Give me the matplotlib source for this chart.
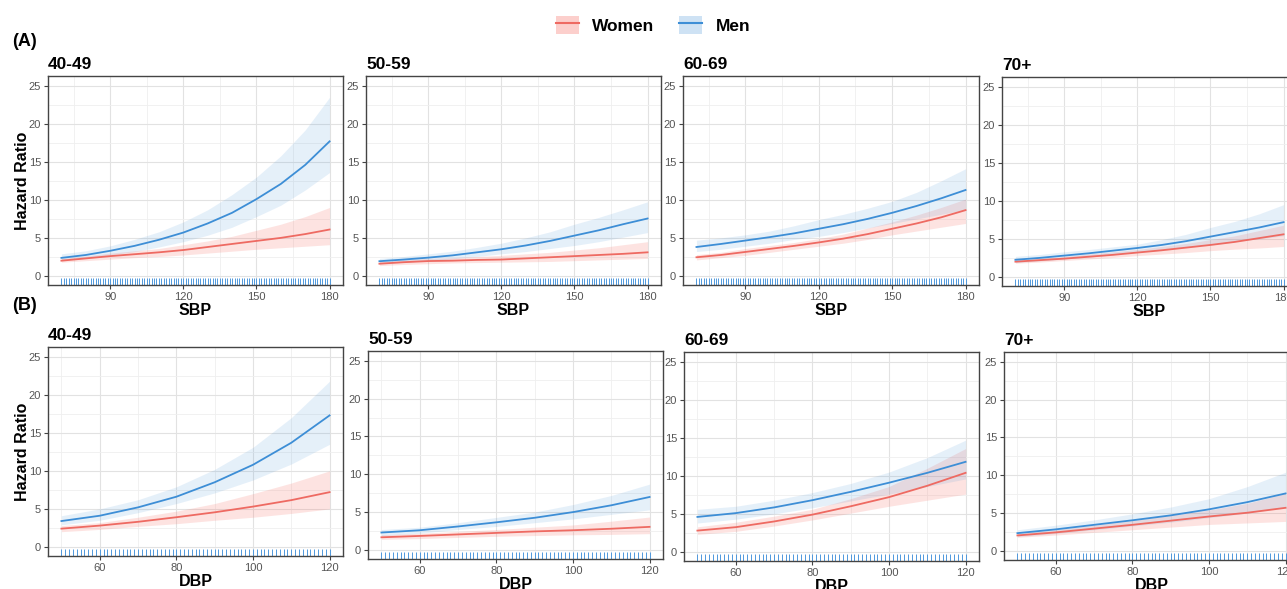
import matplotlib
matplotlib.use("Agg")
import matplotlib.pyplot as plt
import numpy as np
from matplotlib.lines import Line2D
from matplotlib.patches import Patch

plt.rcParams['font.family'] = ['Liberation Sans', 'DejaVu Sans']

# ---------------- data ----------------
ages = ['40-49', '50-59', '60-69', '70+']

sbp = [70, 80, 90, 100, 110, 120, 130, 140, 150, 160, 170, 180]
sbp_women_hr = [[2.0, 2.3, 2.6, 2.85, 3.1, 3.4, 3.8, 4.2, 4.6, 5.0, 5.5, 6.1],
                [1.6, 1.8, 1.95, 2.0, 2.1, 2.15, 2.3, 2.45, 2.6, 2.75, 2.9, 3.1],
                [2.45, 2.75, 3.15, 3.55, 3.95, 4.4, 4.9, 5.5, 6.2, 6.9, 7.7, 8.65],
                [2.0, 2.2, 2.4, 2.65, 2.9, 3.2, 3.5, 3.85, 4.2, 4.6, 5.1, 5.6]]
sbp_women_lo = [[1.8, 2.0, 2.2, 2.4, 2.55, 2.75, 3.0, 3.25, 3.5, 3.7, 3.9, 4.1],
                [1.35, 1.5, 1.6, 1.7, 1.75, 1.8, 1.85, 1.9, 2.0, 2.1, 2.2, 2.3],
                [2.1, 2.4, 2.7, 3.1, 3.5, 3.9, 4.3, 4.8, 5.4, 5.9, 6.4, 6.9],
                [1.8, 1.95, 2.15, 2.35, 2.55, 2.8, 3.0, 3.2, 3.45, 3.65, 3.8, 4.0]]
sbp_women_hi = [[2.3, 2.6, 3.0, 3.3, 3.6, 4.1, 4.6, 5.2, 6.0, 6.8, 7.8, 9.0],
                [1.9, 2.1, 2.3, 2.4, 2.55, 2.7, 2.9, 3.1, 3.4, 3.7, 4.1, 4.5],
                [2.8, 3.1, 3.6, 4.0, 4.4, 4.9, 5.5, 6.3, 7.1, 8.0, 9.0, 10.1],
                [2.2, 2.45, 2.7, 3.0, 3.3, 3.6, 4.0, 4.4, 4.9, 5.4, 6.1, 6.8]]
sbp_men_hr = [[2.37, 2.75, 3.3, 3.95, 4.75, 5.7, 6.9, 8.3, 10.1, 12.1, 14.6, 17.7],
              [1.93, 2.15, 2.4, 2.7, 3.1, 3.5, 4.0, 4.6, 5.3, 6.0, 6.8, 7.55],
              [3.8, 4.2, 4.65, 5.1, 5.6, 6.2, 6.8, 7.5, 8.3, 9.2, 10.2, 11.3],
              [2.25, 2.5, 2.8, 3.1, 3.45, 3.8, 4.2, 4.7, 5.3, 5.9, 6.5, 7.2]]
sbp_men_lo = [[2.1, 2.4, 2.75, 3.2, 3.8, 4.5, 5.35, 6.4, 7.8, 9.3, 11.3, 13.6],
              [1.6, 1.8, 2.0, 2.25, 2.55, 2.9, 3.2, 3.6, 4.0, 4.5, 5.1, 5.7],
              [3.2, 3.5, 3.9, 4.3, 4.8, 5.2, 5.7, 6.3, 6.9, 7.5, 8.1, 8.7],
              [1.9, 2.1, 2.35, 2.6, 2.9, 3.3, 3.6, 3.95, 4.3, 4.7, 5.0, 5.4]]
sbp_men_hi = [[2.9, 3.3, 3.95, 4.8, 5.8, 7.1, 8.7, 10.7, 13.0, 15.8, 19.2, 23.5],
              [2.3, 2.55, 2.9, 3.25, 3.75, 4.3, 5.0, 5.8, 6.8, 7.7, 8.7, 9.75],
              [4.7, 5.0, 5.4, 5.9, 6.6, 7.4, 8.1, 8.9, 9.8, 11.0, 12.5, 14.1],
              [2.7, 2.95, 3.3, 3.6, 3.95, 4.3, 4.9, 5.6, 6.5, 7.3, 8.3, 9.5]]

dbp = [50, 60, 70, 80, 90, 100, 110, 120]
dbp_women_hr = [[2.4, 2.8, 3.3, 3.9, 4.55, 5.3, 6.15, 7.2],
                [1.67, 1.85, 2.05, 2.25, 2.45, 2.6, 2.8, 3.05],
                [2.8, 3.25, 4.0, 4.9, 6.0, 7.2, 8.7, 10.4],
                [2.05, 2.45, 2.95, 3.45, 4.0, 4.55, 5.05, 5.7]]
dbp_women_lo = [[2.0, 2.3, 2.7, 3.05, 3.5, 3.9, 4.4, 5.0],
                [1.4, 1.5, 1.65, 1.8, 1.9, 2.0, 2.05, 2.15],
                [2.3, 2.7, 3.4, 4.2, 5.1, 6.0, 6.8, 7.6],
                [1.8, 2.1, 2.45, 2.8, 3.15, 3.5, 3.7, 3.9]]
dbp_women_hi = [[2.8, 3.2, 3.9, 4.7, 5.7, 7.0, 8.4, 10.0],
                [2.0, 2.2, 2.45, 2.7, 3.0, 3.3, 3.8, 4.35],
                [3.3, 3.9, 4.7, 5.6, 7.0, 8.6, 11.0, 13.6],
                [2.3, 2.8, 3.4, 4.0, 4.7, 5.4, 6.3, 7.6]]
dbp_men_hr = [[3.4, 4.1, 5.2, 6.6, 8.5, 10.8, 13.7, 17.3],
              [2.3, 2.6, 3.1, 3.65, 4.25, 5.0, 5.9, 7.0],
              [4.6, 5.1, 5.85, 6.8, 7.9, 9.1, 10.4, 11.85],
              [2.35, 2.85, 3.45, 4.05, 4.7, 5.5, 6.45, 7.6]]
dbp_men_lo = [[2.9, 3.5, 4.5, 5.7, 7.1, 8.8, 10.9, 13.5],
              [1.9, 2.2, 2.7, 3.1, 3.6, 4.1, 4.7, 5.3],
              [3.8, 4.3, 5.0, 5.8, 6.7, 7.6, 8.6, 9.6],
              [1.9, 2.3, 2.8, 3.3, 3.8, 4.4, 5.0, 5.8]]
dbp_men_hi = [[4.1, 5.0, 6.2, 7.9, 10.2, 13.1, 17.0, 21.8],
              [2.7, 3.0, 3.6, 4.3, 5.0, 6.0, 7.2, 8.7],
              [5.6, 6.0, 6.8, 7.8, 9.0, 10.5, 12.4, 14.7],
              [2.8, 3.4, 4.1, 4.9, 5.8, 6.9, 8.5, 10.4]]

# observed values shown as rug (one per integer mmHg)
sbp_rug = np.arange(70, 181)
dbp_rug = np.arange(50, 121)

sbp_ticks = [90, 120, 150, 180]
sbp_minor = [75, 105, 135, 165]
dbp_ticks = [60, 80, 100, 120]
dbp_minor = [50, 70, 90, 110]
y_ticks = [0, 5, 10, 15, 20, 25]
y_minor = [2.5, 7.5, 12.5, 17.5, 22.5]

# ---------------- style ----------------
RED = '#EE6A62'
BLUE = '#3D8ED6'
RUG = '#4F98DC'

W, H = 1287, 589
fig = plt.figure(figsize=(W / 100, H / 100), dpi=100)

# panel boxes in pixels (left, top, right, bottom) - the original is a composite
boxes_a = [(48, 76, 343, 285), (366, 76, 661, 285), (683, 76, 979, 285), (1002, 77, 1297, 286)]
boxes_b = [(48, 347, 343, 556), (368, 351, 663, 559), (684, 352, 979, 561), (1004, 352, 1299, 560)]


def panel(box, x, rug, ticks, minor, xlim, xlabel, title, w_hr, w_lo, w_hi, m_hr, m_lo, m_hi, ylab):
    l, t, r, b = box
    ax = fig.add_axes([l / W, 1 - b / H, (r - l) / W, (b - t) / H])
    ax.set_xlim(*xlim)
    ax.set_ylim(-1.2, 26.3)
    ax.set_xticks(ticks)
    ax.set_xticks(minor, minor=True)
    ax.set_yticks(y_ticks)
    ax.set_yticks(y_minor, minor=True)
    ax.grid(which='major', color='#E2E2E2', lw=0.8)
    ax.grid(which='minor', color='#EFEFEF', lw=0.6)
    ax.set_axisbelow(True)
    ax.tick_params(which='minor', length=0)
    ax.tick_params(which='major', length=3, width=0.8, color='#444444',
                   labelsize=8, labelcolor='#555555', pad=2)
    for s in ax.spines.values():
        s.set_color('#444444')
        s.set_linewidth(1.0)

    ax.fill_between(x, w_lo, w_hi, color='#F8766D', alpha=0.2, lw=0)
    ax.fill_between(x, m_lo, m_hi, color=BLUE, alpha=0.13, lw=0)
    ax.plot(x, w_hr, color=RED, lw=1.3)
    ax.plot(x, m_hr, color=BLUE, lw=1.3)
    ax.vlines(rug, 0, 0.032, color=RUG, lw=0.7, transform=ax.get_xaxis_transform())

    ax.set_title(title, loc='left', fontsize=12.5, fontweight='bold', pad=5)
    ax.set_xlabel(xlabel, fontsize=11.5, fontweight='bold', labelpad=1)
    if ylab:
        ax.set_ylabel('Hazard Ratio', fontsize=11.5, fontweight='bold', labelpad=-1)
    return ax


for i in range(4):
    panel(boxes_a[i], sbp, sbp_rug, sbp_ticks, sbp_minor, (64.5, 185.5), 'SBP', ages[i],
          sbp_women_hr[i], sbp_women_lo[i], sbp_women_hi[i],
          sbp_men_hr[i], sbp_men_lo[i], sbp_men_hi[i], i == 0)
    panel(boxes_b[i], dbp, dbp_rug, dbp_ticks, dbp_minor, (46.5, 123.5), 'DBP', ages[i],
          dbp_women_hr[i], dbp_women_lo[i], dbp_women_hi[i],
          dbp_men_hr[i], dbp_men_lo[i], dbp_men_hi[i], i == 0)

fig.text(12 / W, 1 - 41 / H, '(A)', fontsize=13, fontweight='bold', va='center', ha='left')
fig.text(12 / W, 1 - 306 / H, '(B)', fontsize=13, fontweight='bold', va='center', ha='left')

handles = [(Patch(facecolor='#F8766D', alpha=0.35, lw=0), Line2D([], [], color=RED, lw=1.5)),
           (Patch(facecolor=BLUE, alpha=0.25, lw=0), Line2D([], [], color=BLUE, lw=1.5))]
fig.legend(handles, ['Women', 'Men'], loc='center', bbox_to_anchor=(653 / W, 1 - 25 / H),
           ncol=2, frameon=False, prop={'size': 12.5, 'weight': 'bold'},
           handlelength=1.3, handleheight=1.3, handletextpad=0.8, columnspacing=1.4)

fig.savefig('out.png', dpi=100)
